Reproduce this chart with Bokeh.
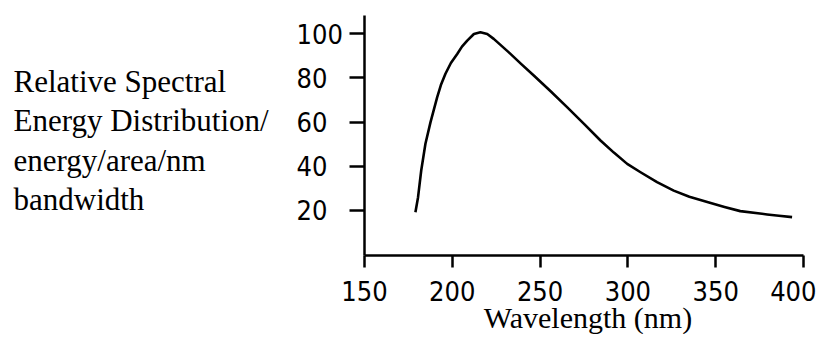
from bokeh.plotting import figure
from bokeh.models import Range1d, FixedTicker, Label, LabelSet, ColumnDataSource, LinearAxis
from bokeh.core.properties import value
from bokeh.embed import file_html
from bokeh.resources import INLINE

# ---- data ----
wavelength_nm = [179, 180.5, 182.3, 184.7, 187.6, 191.4, 193.5, 196.1, 199.2, 202.8,
                 205.5, 208.5, 212.3, 216, 219.9, 223.6, 232.2, 239, 246.4, 256,
                 265.5, 275, 284.4, 292, 299.6, 307.2, 316.6, 326.1, 335, 345.2,
                 355, 364, 379.3, 386, 393.5]
relative_energy = [19.2, 26, 38.1, 50.2, 60, 71.3, 76.8, 81.9, 86.8, 90.9,
                   94.2, 96.9, 99.9, 100.7, 99.9, 97.7, 91.6, 86.5, 81.1, 74,
                   66.7, 59.2, 51.7, 46.2, 41.1, 37.3, 32.8, 29, 26.2, 23.8,
                   21.6, 19.7, 18.2, 17.6, 17]
x_ticks = [150, 200, 250, 300, 350, 400]
y_ticks = [20, 40, 60, 80, 100]
y_tick_labels = ["20", "40", "60", "80", "100"]
y_title_lines = ["Relative Spectral", "Energy Distribution/", "energy/area/nm", "bandwidth"]
x_title = "Wavelength (nm)"

# ---- layout (axes box: x 150..400, y -0.4..108.3 ; outer canvas covers the titles) ----
X0, X1 = 150, 400
Y0, Y1 = -0.4, 108.3
W, H = 816, 334
BOX_LEFT, BOX_RIGHT, BOX_TOP, BOX_BOTTOM = 364, 803, 15, 255   # canvas px
px_per_x = (BOX_RIGHT - BOX_LEFT) / (X1 - X0)
px_per_y = (BOX_BOTTOM - BOX_TOP) / (Y1 - Y0)

xr = Range1d(X0 - BOX_LEFT / px_per_x, X1 + (W - BOX_RIGHT) / px_per_x)
yr = Range1d(Y0 - (H - BOX_BOTTOM) / px_per_y, Y1 + BOX_TOP / px_per_y)

p = figure(width=W, height=H, x_range=xr, y_range=yr,
           output_backend="svg", toolbar_location=None,
           x_axis_type=None, y_axis_type=None, min_border=0)
p.outline_line_color = None
p.background_fill_color = "white"
p.border_fill_color = "white"
p.xgrid.visible = False
p.ygrid.visible = False

p.line(wavelength_nm, relative_energy, line_width=2.6, line_color="black", line_join="round")

# x axis
xa = LinearAxis(fixed_location=Y0, bounds=(X0, X1), ticker=FixedTicker(ticks=x_ticks))
xa.axis_line_width = 2.5
xa.axis_line_color = "black"
xa.major_tick_line_width = 2.5
xa.major_tick_line_color = "black"
xa.major_tick_out = 12
xa.major_tick_in = 0
xa.minor_tick_out = 0
xa.minor_tick_in = 0
xa.major_label_standoff = 13
xa.major_label_text_font = "DejaVu Sans Condensed"
xa.major_label_text_font_size = "27px"
xa.major_label_text_color = "black"
p.add_layout(xa, "below")

# y axis
ya = LinearAxis(fixed_location=X0, bounds=(Y0, Y1), ticker=FixedTicker(ticks=y_ticks))
ya.axis_line_width = 2.5
ya.axis_line_color = "black"
ya.major_tick_line_width = 2.5
ya.major_tick_line_color = "black"
ya.major_tick_out = 15
ya.major_tick_in = 0
ya.minor_tick_out = 0
ya.minor_tick_in = 0
ya.major_label_text_color = None
p.add_layout(ya, "left")

# left-aligned y tick labels
ylab_x = X0 - 68 / px_per_x
src = ColumnDataSource(dict(x=[ylab_x] * len(y_ticks), y=y_ticks, text=y_tick_labels))
p.add_layout(LabelSet(x="x", y="y", text="text", source=src,
                      text_font=value("DejaVu Sans Condensed"), text_font_size="27px",
                      text_color="black", text_align="left", text_baseline="middle"))

# left title block
title_x = X0 - 351 / px_per_x
first_y = Y0 + (BOX_BOTTOM - 81) / px_per_y
step = 39.3 / px_per_y
for i, line in enumerate(y_title_lines):
    p.add_layout(Label(x=title_x, y=first_y - i * step, text=line,
                       text_font="Liberation Serif", text_font_size="31px",
                       text_color="black", text_align="left", text_baseline="middle"))

# x axis title
p.add_layout(Label(x=X0 + 223.5 / px_per_x, y=Y0 - 62 / px_per_y, text=x_title,
                   text_font="Liberation Serif", text_font_size="30px",
                   text_color="black", text_align="center", text_baseline="middle"))

open("out.html", "w").write(file_html(p, INLINE))
